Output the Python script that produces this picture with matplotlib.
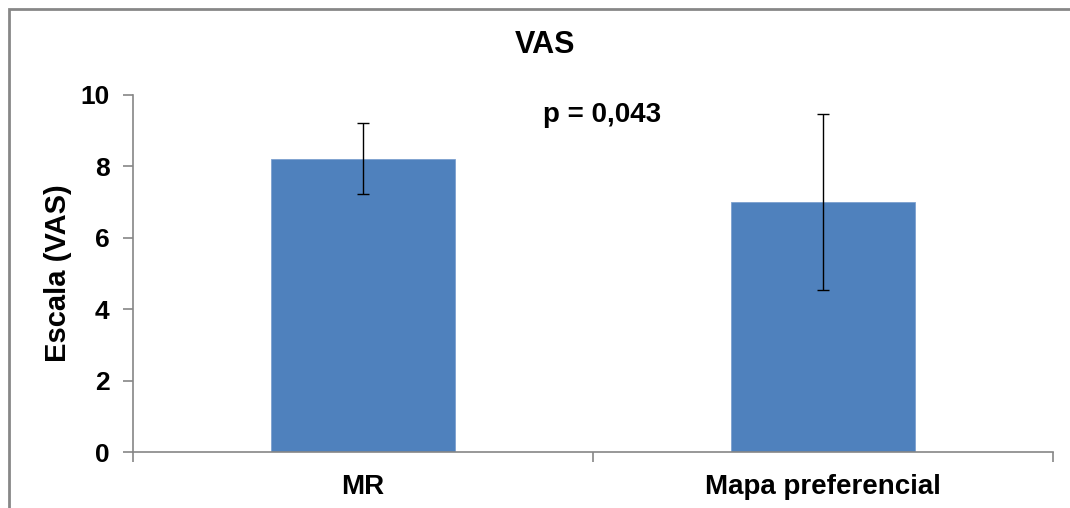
import matplotlib.pyplot as plt
import matplotlib.patches as patches

plt.rcParams['font.family'] = ['Liberation Sans', 'DejaVu Sans']
plt.rcParams['font.weight'] = 'bold'

# data
categories = ['MR', 'Mapa preferencial']
means = [8.22, 7.0]
errors = [1.0, 2.47]

fig = plt.figure(figsize=(10.7, 5.08), dpi=100)
ax = fig.add_axes([133 / 1070, 56 / 508, 920 / 1070, 357 / 508])

x = range(len(categories))
ax.bar(x, means, width=0.4, color='#4f81bd', edgecolor='#7da1cf', linewidth=0.6)
ax.errorbar(x, means, yerr=errors, fmt='none', ecolor='black', elinewidth=1.0,
            capsize=4.5, capthick=1.0)

ax.set_xlim(-0.5, 1.5)
ax.set_ylim(0, 10)
ax.set_yticks([0, 2, 4, 6, 8, 10])
ax.set_xticks([-0.5, 0.5, 1.5], minor=False)
ax.set_xticklabels(['', '', ''])
ax.set_xticks(list(x), minor=True)
ax.set_xticklabels(categories, minor=True)
ax.tick_params(axis='x', which='minor', length=0, labelsize=20, pad=16)
ax.tick_params(axis='x', which='major', length=7, color='#868686', width=1.2)
ax.tick_params(axis='y', length=7, color='#868686', width=1.2, labelsize=19, pad=10)

for s in ['top', 'right']:
    ax.spines[s].set_visible(False)
for s in ['left', 'bottom']:
    ax.spines[s].set_color('#868686')
    ax.spines[s].set_linewidth(1.2)

ax.set_ylabel('Escala (VAS)', fontsize=21, fontweight='bold', labelpad=6)
fig.text(545 / 1070, 1 - 45 / 508, 'VAS', ha='center', va='center', fontsize=22, fontweight='bold')
ax.text(0.52, 9.44, 'p = 0,043', ha='center', va='center', fontsize=20, fontweight='bold')

# grey frame round the chart area
fig.patches.append(patches.Rectangle((9 / 1070, -0.1), 1.2, 1.1 - 9 / 508,
                                     transform=fig.transFigure, fill=False,
                                     edgecolor='#878787', linewidth=2))

fig.savefig('out.png', dpi=100)
